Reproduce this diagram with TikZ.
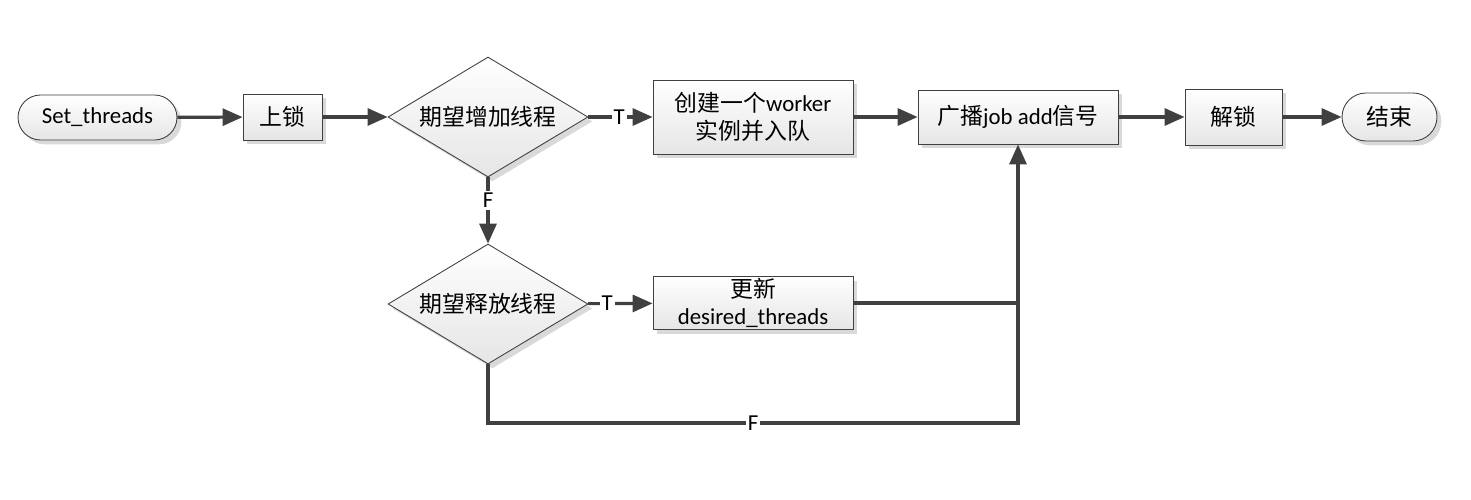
\documentclass[tikz,border=0pt]{standalone}
\usepackage{fontspec}
\setmainfont{Carlito}
\newfontfamily\cjk{Noto Sans CJK SC}
\usepackage{tikz}
\usetikzlibrary{arrows.meta}
\usetikzlibrary{shapes.geometric}
\usetikzlibrary{shadows}

\begin{document}
\begin{tikzpicture}[x=0.02cm, y=-0.02cm,
  font=\fontsize{13}{15.5}\selectfont,
  box/.style={draw=black!75, line width=0.5pt, top color=white, bottom color=black!10,
    drop shadow={shadow xshift=2.5pt, shadow yshift=-2.5pt, fill=black!15, opacity=1},
    align=center, inner sep=1pt},
  terminal/.style={box, rounded corners=0.45cm},
  decision/.style={box, diamond, aspect=1.667, inner sep=0pt, minimum width=4cm, minimum height=2.4cm},
  flow/.style={draw=black!75, line width=1.8pt, arrows={-Triangle[length=0.4cm, width=0.34cm]}},
  link/.style={draw=black!75, line width=1.8pt},
  lbl/.style={fill=white, inner sep=1pt, text=black}]
\useasboundingbox (0,0) rectangle (1471,500);

% main row
\node[terminal, minimum width=3.18cm, minimum height=0.9cm] (start) at (97.5,117.5) {Set\_threads};
\node[box, minimum width=1.58cm, minimum height=0.92cm] (lock) at (282.5,117) {\cjk 上锁};
\node[decision] (d1) at (488,117) {\cjk 期望增加线程};
\node[box, minimum width=4cm, minimum height=1.48cm] (work) at (753,117) {{\cjk 创建一个}worker\\{\cjk 实例并入队}};
\node[box, minimum width=4cm, minimum height=1.08cm] (bcast) at (1018,117) {{\cjk 广播}job add{\cjk 信号}};
\node[box, minimum width=1.94cm, minimum height=1.12cm] (unlock) at (1233.5,117) {\cjk 解锁};
\node[terminal, rounded corners=0.48cm, minimum width=1.9cm, minimum height=0.96cm] (finish) at (1389.5,117) {\cjk 结束};

% second row
\node[decision] (d2) at (488,304) {\cjk 期望释放线程};
\node[box, minimum width=4cm, minimum height=1.04cm] (upd) at (753,303) {{\cjk 更新}\\desired\_threads};
\coordinate (corner) at (488,423);

\draw[flow] (start) -- (lock);
\draw[flow] (lock) -- (d1);
\draw[flow] (d1) -- node[lbl, pos=0.48] {T} (work);
\draw[flow] (work) -- (bcast);
\draw[flow] (bcast) -- (unlock);
\draw[flow] (unlock) -- (finish);
\draw[flow] (d1) -- node[lbl, pos=0.35] {F} (d2);
\draw[flow] (d2) -- node[lbl, pos=0.3] {T} (upd);
\draw[link] (upd.east) -- (upd.east -| bcast.south);
\draw[flow] (d2.south) -- (corner) -- node[lbl] {F} (corner -| bcast.south) -- (bcast.south);
\end{tikzpicture}
\end{document}
